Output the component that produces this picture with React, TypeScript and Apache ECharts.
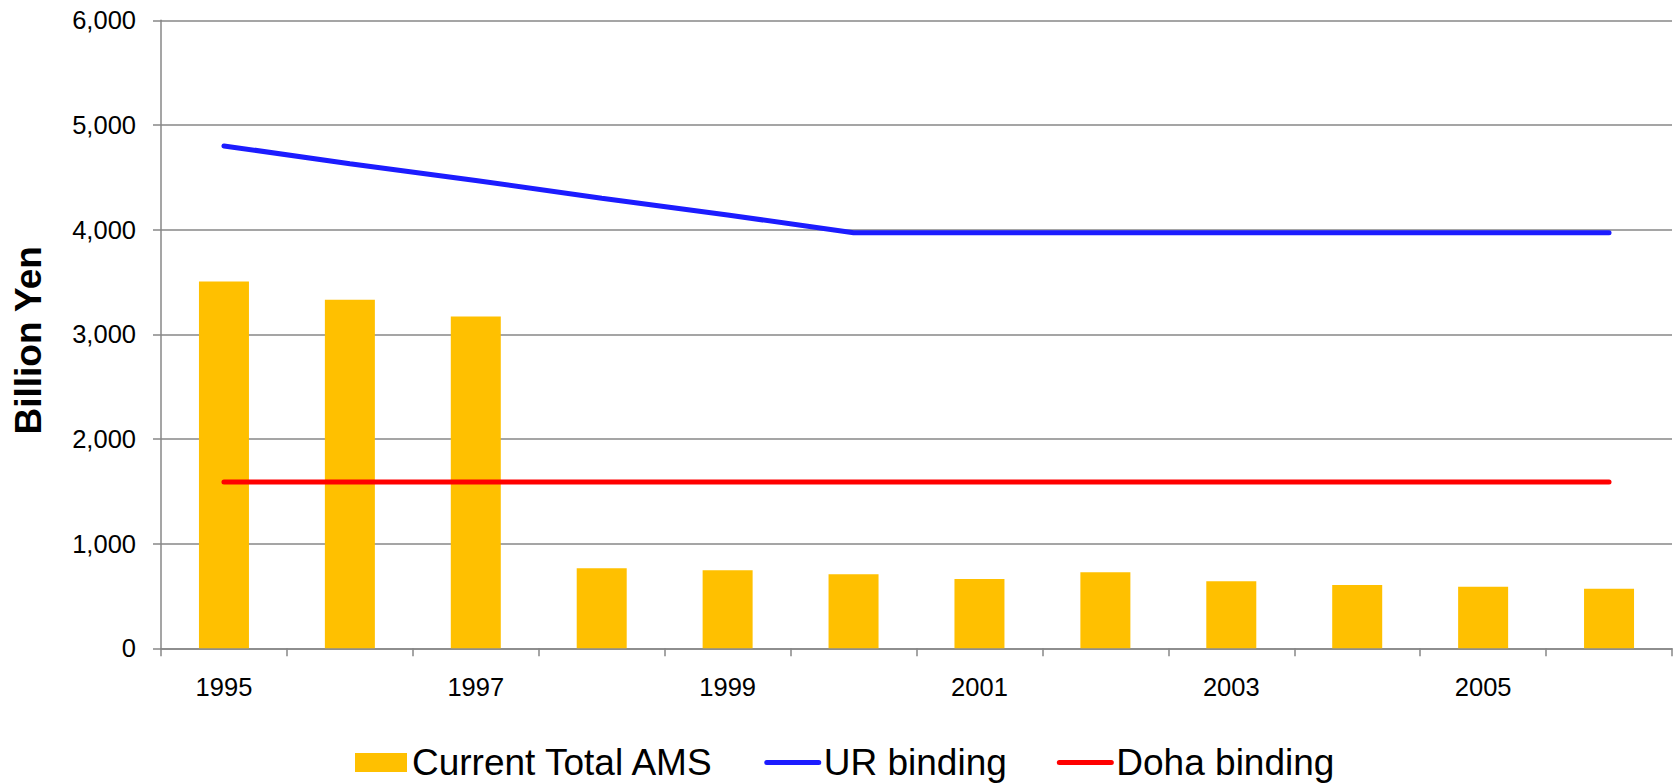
import React, { useEffect, useRef } from "react";
import * as echarts from "echarts";

const years = ["1995", "1996", "1997", "1998", "1999", "2000", "2001", "2002", "2003", "2004", "2005", "2006"];
const currentTotalAMS = [3505, 3330, 3170, 764, 745, 707, 662, 726, 640, 605, 589, 570];
const urBinding = [4800, 4630, 4470, 4300, 4140, 3970, 3970, 3970, 3970, 3970, 3970, 3970];
const dohaBinding = [1590, 1590, 1590, 1590, 1590, 1590, 1590, 1590, 1590, 1590, 1590, 1590];
const seriesNames = ["Current Total AMS", "UR binding", "Doha binding"];
const yAxisTitle = "Billion Yen";

const FONT = "'Liberation Sans', Arial, Helvetica, sans-serif";
const GRID_COLOR = "#878787";

export default function App() {
  const ref = useRef<HTMLDivElement>(null);
  useEffect(() => {
    if (!ref.current) return;
    const chart = echarts.init(ref.current, null, { renderer: "svg" });
    chart.setOption({
      animation: false,
      backgroundColor: "#ffffff",
      textStyle: { fontFamily: FONT, color: "#000" },
      grid: { left: 161, right: 5, top: 20.3, bottom: 135.7, containLabel: false },
      legend: {
        left: 350,
        top: 739,
        itemWidth: 52,
        itemHeight: 19,
        itemGap: 50,
        lineStyle: { width: 5, cap: "round" },
        textStyle: { fontSize: 37, lineHeight: 36, fontFamily: FONT, color: "#000" },
        data: [
          { name: seriesNames[0], icon: "rect" },
          { name: seriesNames[1], itemStyle: { opacity: 0 }, lineStyle: { width: 5, color: "#1C1CFF", cap: "round" } },
          { name: seriesNames[2], itemStyle: { opacity: 0 }, lineStyle: { width: 5, color: "#FF0000", cap: "round" } },
        ],
      },
      xAxis: {
        type: "category",
        data: years,
        boundaryGap: true,
        axisLine: { show: true, lineStyle: { color: GRID_COLOR, width: 1.5 } },
        axisTick: { show: true, interval: 0, length: 8, lineStyle: { color: GRID_COLOR, width: 1.5 } },
        axisLabel: { interval: 1, fontSize: 25.5, color: "#000", margin: 26, fontFamily: FONT },
        splitLine: { show: false },
      },
      yAxis: {
        type: "value",
        min: 0,
        max: 6000,
        interval: 1000,
        name: yAxisTitle,
        nameLocation: "middle",
        nameRotate: 90,
        nameGap: 114,
        nameTextStyle: { fontSize: 37, fontWeight: "bold", color: "#000", fontFamily: FONT, padding: [0, 12, 0, 0] },
        axisLine: { show: true, lineStyle: { color: GRID_COLOR, width: 1.5 } },
        axisTick: { show: true, length: 8, lineStyle: { color: GRID_COLOR, width: 1.5 } },
        axisLabel: {
          fontSize: 25.5,
          color: "#000",
          margin: 25,
          fontFamily: FONT,
          formatter: (v: number) => v.toLocaleString("en-US"),
        },
        splitLine: { show: true, lineStyle: { color: GRID_COLOR, width: 1.5 } },
      },
      series: [
        {
          name: seriesNames[0],
          type: "bar",
          data: currentTotalAMS,
          barWidth: 50,
          itemStyle: { color: "#FFC000" },
        },
        {
          name: seriesNames[1],
          type: "line",
          data: urBinding,
          symbol: "none",
          lineStyle: { color: "#1C1CFF", width: 5, cap: "round" },
          itemStyle: { color: "#1C1CFF" },
        },
        {
          name: seriesNames[2],
          type: "line",
          data: dohaBinding,
          symbol: "none",
          lineStyle: { color: "#FF0000", width: 5, cap: "round" },
          itemStyle: { color: "#FF0000" },
        },
      ],
    });
    return () => chart.dispose();
  }, []);
  return (
    <div
      ref={ref}
      style={{ position: "absolute", left: 0, top: 0, width: 1677, height: 784, background: "#fff" }}
    />
  );
}
